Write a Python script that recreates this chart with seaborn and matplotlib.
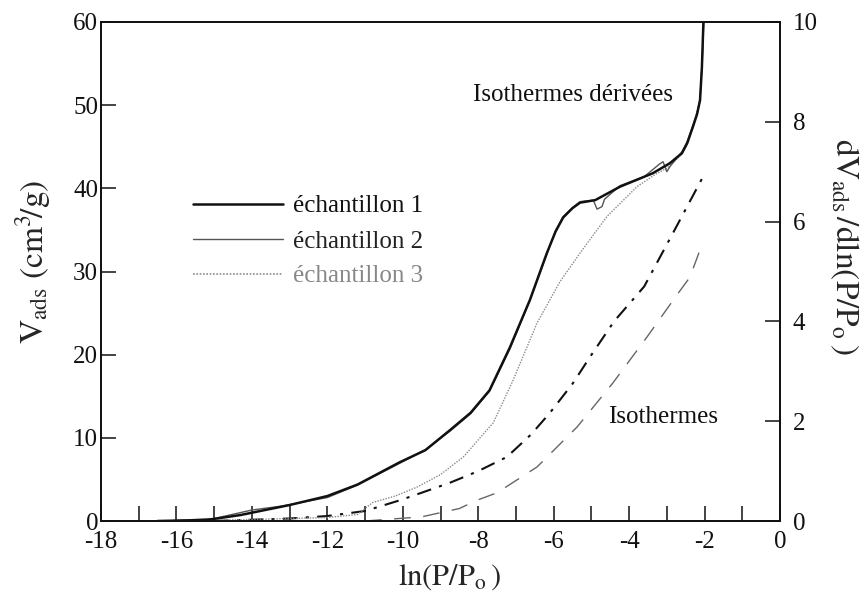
import numpy as np
import pandas as pd
import seaborn as sns
import matplotlib
matplotlib.use("Agg")
import matplotlib.pyplot as plt
from matplotlib.lines import Line2D
from matplotlib.ticker import MultipleLocator, FuncFormatter

# ---------------- data ----------------
# Derived isotherms, right axis units (dV_ads/dln(P/Po))
deriv1_x = [-16.5, -15.2, -14.3, -13.0, -12.0, -11.2, -10.1, -9.4, -8.75, -8.2, -7.7, -7.16,
            -6.63, -6.18, -5.95, -5.75, -5.5, -5.3, -4.9, -4.24, -3.37, -2.92, -2.6, -2.46,
            -2.3, -2.2, -2.12, -2.07, -2.03]
deriv1_y = [0.0, 0.02, 0.12, 0.32, 0.50, 0.73, 1.17, 1.42, 1.82, 2.17, 2.62, 3.48,
            4.43, 5.37, 5.80, 6.08, 6.27, 6.38, 6.43, 6.70, 6.97, 7.17, 7.37, 7.57,
            7.92, 8.15, 8.43, 9.10, 10.0]

deriv2_x = [-16.3, -15.0, -14.0, -13.2, -12.0, -11.2, -10.1, -9.4, -8.75, -8.2, -7.7, -7.16,
            -6.63, -6.18, -5.95, -5.75, -5.5, -5.3, -4.95, -4.85, -4.72, -4.65, -4.24, -3.6,
            -3.2, -3.1, -3.0, -2.92, -2.6, -2.46, -2.3, -2.2, -2.12, -2.07, -2.02]
deriv2_y = [0.0, 0.05, 0.22, 0.30, 0.47, 0.72, 1.15, 1.43, 1.80, 2.15, 2.60, 3.45,
            4.42, 5.35, 5.82, 6.10, 6.28, 6.40, 6.43, 6.25, 6.30, 6.45, 6.72, 6.90,
            7.15, 7.20, 7.00, 7.10, 7.40, 7.60, 7.95, 8.17, 8.45, 9.10, 10.0]

deriv3_x = [-16.0, -14.0, -12.0, -11.2, -11.0, -10.8, -10.2, -9.62, -9.0, -8.4, -7.6, -7.07,
            -6.44, -5.83, -5.3, -4.59, -3.79, -3.3, -3.0, -2.6, -2.3, -2.12, -2.04]
deriv3_y = [0.0, 0.03, 0.07, 0.13, 0.25, 0.37, 0.50, 0.68, 0.93, 1.28, 1.97, 2.83,
            3.97, 4.80, 5.37, 6.10, 6.70, 6.95, 7.07, 7.35, 7.90, 8.43, 9.50]

# Isotherms, left axis units (V_ads, cm3/g)
iso_a_x = [-15.0, -13.0, -12.0, -11.0, -10.07, -9.5, -8.75, -8.0, -7.24, -6.6, -6.1, -5.5,
           -5.04, -4.4, -3.6, -2.84, -2.04]
iso_a_y = [0.0, 0.3, 0.6, 1.2, 2.5, 3.4, 4.6, 6.0, 7.7, 10.4, 13.0, 16.5,
           19.7, 24.0, 28.2, 34.6, 41.4]

iso_b_x = [-11.0, -9.5, -8.5, -8.03, -7.5, -6.44, -5.38, -4.43, -3.53, -2.73, -2.39, -2.12]
iso_b_y = [0.0, 0.5, 1.5, 2.5, 3.4, 6.5, 11.3, 16.6, 22.1, 27.2, 29.3, 32.6]

legend_labels = ["échantillon 1", "échantillon 2", "échantillon 3"]
left_ticks = [0, 10, 20, 30, 40, 50, 60]
right_ticks = [0, 2, 4, 6, 8, 10]

# ---------------- style ----------------
sns.set_style("ticks")
plt.rcParams["font.family"] = ["Liberation Serif", "DejaVu Serif"]
plt.rcParams["mathtext.fontset"] = "stix"
plt.rcParams["axes.linewidth"] = 1.3

fig = plt.figure(figsize=(8.67, 5.99), dpi=100)
ax = fig.add_axes([101 / 867, 1 - 521 / 599, 679 / 867, 499 / 599])
ax2 = ax.twinx()

c1, c2, c3 = "#111111", "#555555", "#8a8a8a"

# derived isotherms (right axis)
sns.lineplot(x=deriv3_x, y=deriv3_y, ax=ax2, color=c3, lw=1.0, linestyle=(0, (1, 1)),
             sort=False, estimator=None)
sns.lineplot(x=deriv2_x, y=deriv2_y, ax=ax2, color=c2, lw=1.0, sort=False, estimator=None)
sns.lineplot(x=deriv1_x, y=deriv1_y, ax=ax2, color=c1, lw=1.8, sort=False, estimator=None)

# isotherms (left axis)
sns.lineplot(x=iso_a_x, y=iso_a_y, ax=ax, color=c1, lw=1.5, linestyle=(0, (7, 4, 1.5, 4)),
             sort=False, estimator=None)
sns.lineplot(x=iso_b_x, y=iso_b_y, ax=ax, color="#666666", lw=1.0, linestyle=(0, (12, 9)),
             sort=False, estimator=None)

# axes limits/ticks
ax.set_xlim(-18, 0)
ax.set_ylim(0, 60)
ax2.set_ylim(0, 10)

ax.xaxis.set_major_locator(MultipleLocator(1))
ax.xaxis.set_major_formatter(FuncFormatter(lambda v, p: f"{int(round(v))}" if int(round(v)) % 2 == 0 else ""))
ax.set_yticks(left_ticks)
ax2.set_yticks(right_ticks)

tick_kw = dict(direction="in", length=11, width=1.1, colors="#111111", labelsize=18)
ax.tick_params(axis="x", bottom=True, top=False, pad=7, **tick_kw)
ax.tick_params(axis="y", left=True, right=False, pad=2, **tick_kw)
ax2.tick_params(axis="y", left=False, right=True, pad=9, **tick_kw)

for a in (ax, ax2):
    for s in a.spines.values():
        s.set_visible(True)
        s.set_color("#111111")
        s.set_linewidth(1.3)

ax.set_xlabel(r"$\mathrm{ln(P/P_{o}\,)}$", fontsize=22)
ax.xaxis.set_label_coords(0.513, -0.082)
ax.set_ylabel(r"$\mathrm{V_{ads}\ (cm^{3}\!/g)}$", fontsize=24, va="center")
ax.yaxis.set_label_coords(-0.100, 0.52)
ax2.set_ylabel(r"$\mathrm{dV_{ads}\,/dln(P/P_{o}\,)}$", fontsize=24, rotation=270, va="center")
ax2.yaxis.set_label_coords(1.095, 0.55)

ax.text(-8.14, 51.2, "Isothermes dérivées", fontsize=18, va="center", ha="left", color="#111111")
ax.text(-4.56, 12.5, "Isothermes", fontsize=18, va="center", ha="left", color="#111111")

handles = [Line2D([], [], color=c1, lw=1.8),
           Line2D([], [], color=c2, lw=1.0),
           Line2D([], [], color=c3, lw=1.2, linestyle=(0, (1, 1)))]
leg = ax2.legend(handles, legend_labels, loc="upper left",
                 bbox_to_anchor=(193 / 867, 1 - 195 / 599), bbox_transform=fig.transFigure,
                 frameon=False, fontsize=18, handlelength=3.6, handletextpad=0.4,
                 labelspacing=0.5, borderpad=0, borderaxespad=0)
for t, col in zip(leg.get_texts(), ["#111111", "#222222", "#888888"]):
    t.set_color(col)

fig.savefig("out.png", dpi=100)
